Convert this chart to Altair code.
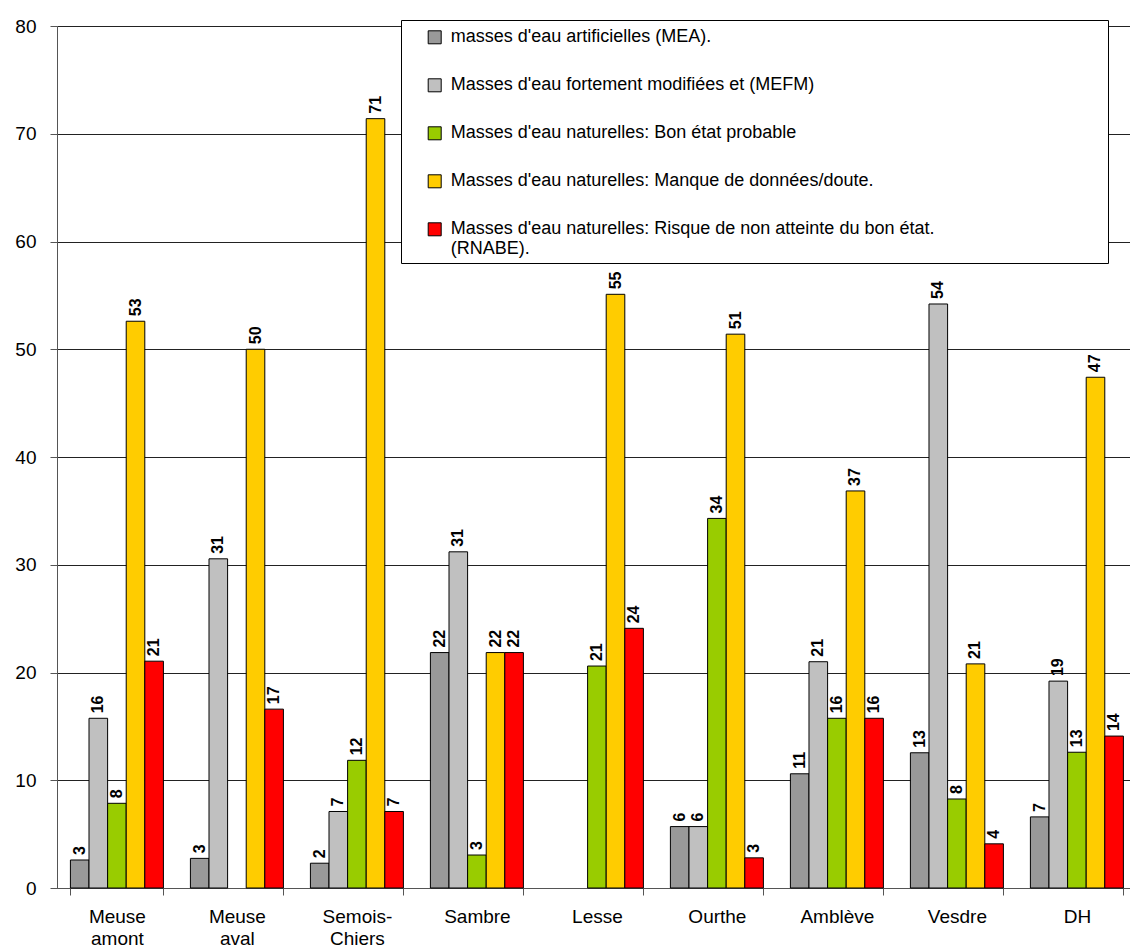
import altair as alt
import pandas as pd

# Catchments (x categories); "\n" marks the line break of the tick label
categories = ["Meuse\namont", "Meuse\naval", "Semois-\nChiers", "Sambre", "Lesse",
              "Ourthe", "Amblève", "Vesdre", "DH"]

series = [
    "masses d'eau artificielles (MEA).",
    "Masses d'eau fortement modifiées et (MEFM)",
    "Masses d'eau naturelles: Bon état probable",
    "Masses d'eau naturelles: Manque de données/doute.",
    "Masses d'eau naturelles: Risque de non atteinte du bon état.\n(RNABE).",
]

# Values (%)
mea    = [2.6, 2.75, 2.3, 21.85, 0.0, 5.7, 10.6, 12.55, 6.6]
mefm   = [15.75, 30.55, 7.1, 31.2, 0.0, 5.7, 21.0, 54.2, 19.2]
bon    = [7.86, 0.0, 11.85, 3.06, 20.6, 34.3, 15.75, 8.26, 12.6]
manque = [52.6, 50.0, 71.4, 21.85, 55.1, 51.4, 36.85, 20.8, 47.4]
rnabe  = [21.05, 16.6, 7.1, 21.85, 24.1, 2.8, 15.75, 4.1, 14.1]

colors = ["#999999", "#C0C0C0", "#99CC00", "#FFCC00", "#FF0000"]

rows = []
for s, vals in zip(series, [mea, mefm, bon, manque, rnabe]):
    for c, v in zip(categories, vals):
        rows.append({"cat": c, "series": s, "value": v,
                     "label": str(int(round(v))) if v > 0 else ""})
df = pd.DataFrame(rows)

FONT = "Liberation Sans, Arial, sans-serif"

x_enc = alt.X(
    "cat:N", sort=categories,
    scale=alt.Scale(domain=categories, paddingInner=0.225, paddingOuter=0.0834, align=0.67),
    axis=alt.Axis(title=None, labelAngle=0, labelExpr="split(datum.label, '\\n')",
                  tickBand="extent", tickSize=7, labelPadding=12, labelFontSize=19,
                  labelLineHeight=22, labelFont=FONT, labelColor="black",
                  domainColor="#555555", tickColor="#555555", grid=False),
)
xoff_enc = alt.XOffset("series:N", sort=series,
                       scale=alt.Scale(domain=series, paddingInner=0, paddingOuter=0))
y_enc = alt.Y(
    "value:Q", scale=alt.Scale(domain=[0, 80], nice=False),
    axis=alt.Axis(title=None, values=list(range(0, 81, 10)), tickSize=7,
                  labelPadding=14, labelFontSize=19, labelFont=FONT,
                  labelColor="black", domainColor="#555555", tickColor="#555555",
                  grid=True, gridColor="#222222", gridWidth=1),
)

# White frame of the legend box (decoration, drawn over the gridlines)
frame = alt.Chart(pd.DataFrame({"k": [0]})).mark_rect(
    fill="white", stroke="black", strokeWidth=1
).encode(
    x=alt.value(344.5), x2=alt.value(1051.5),
    y=alt.value(-5.5), y2=alt.value(237.5),
)

bars = alt.Chart(df).transform_filter("datum.value > 0").mark_bar(
    stroke="black", strokeWidth=1
).encode(
    x=x_enc,
    xOffset=xoff_enc,
    y=y_enc,
    color=alt.Color(
        "series:N", sort=series,
        scale=alt.Scale(domain=series, range=colors),
        legend=alt.Legend(
            title=None, orient="none", legendX=344.7, legendY=-5.7,
            direction="vertical",
            padding=8, symbolType="square", symbolSize=169,
            symbolStrokeColor="black", symbolStrokeWidth=1, symbolOffset=16,
            labelFontSize=18, labelFont=FONT, labelColor="black", labelLimit=0,
            rowPadding=30, labelOffset=7,
            labelExpr="split(datum.label, '\\n')",
        ),
    ),
)

labels = alt.Chart(df).transform_filter("datum.value > 0").mark_text(
    angle=270, align="left", baseline="middle", dx=5,
    fontWeight="bold", fontSize=16, font=FONT, color="black",
).encode(
    x=alt.X("cat:N", sort=categories),
    xOffset=alt.XOffset("series:N", sort=series),
    y=alt.Y("value:Q"),
    text="label:N",
)

chart = alt.layer(frame, bars, labels).properties(
    width=1073, height=862,
    padding={"left": 57, "top": 26, "right": 0, "bottom": 61},
    autosize=alt.AutoSizeParams(type="none"),
).configure_view(stroke=None).configure(background="white")

chart.save("out.html", embed_options={"renderer": "svg", "actions": False})
